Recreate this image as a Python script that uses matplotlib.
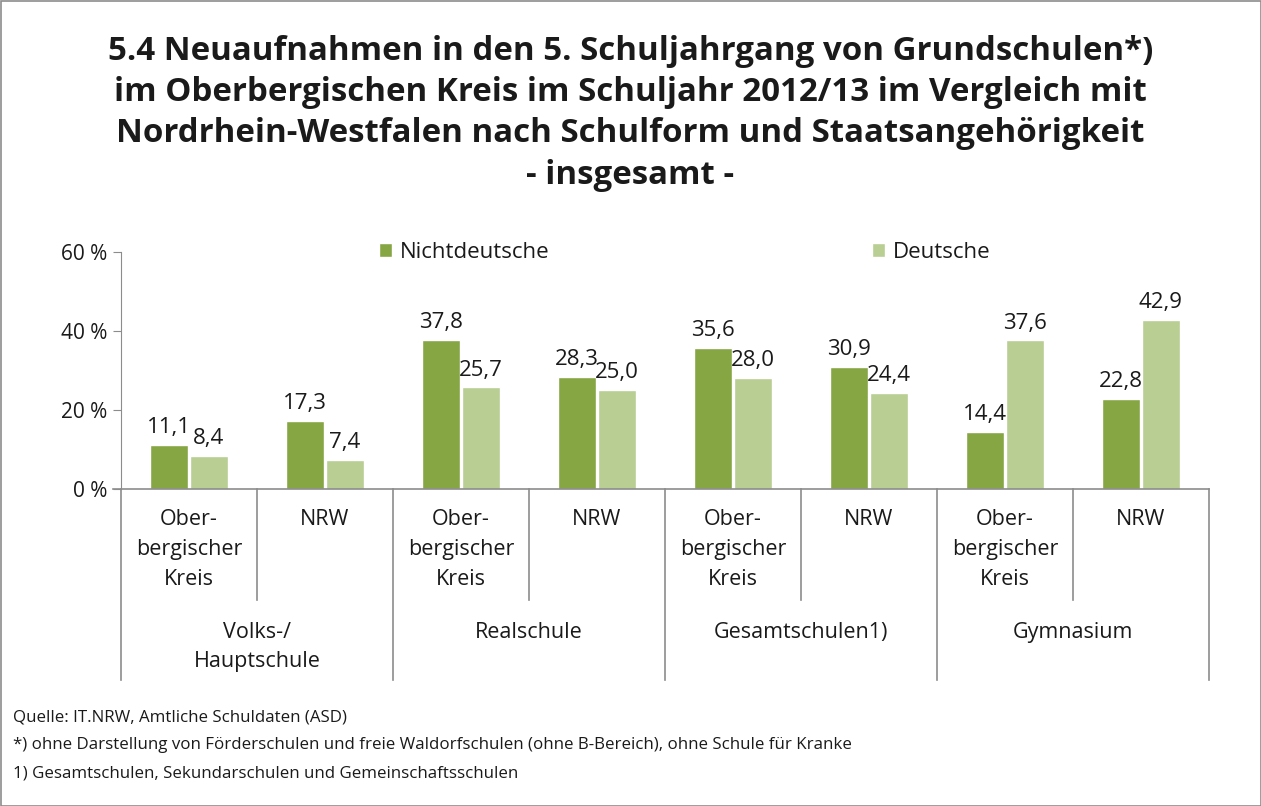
import matplotlib
matplotlib.use("Agg")
import matplotlib.pyplot as plt
from matplotlib.patches import Rectangle
import numpy as np

plt.rcParams['font.family'] = ['Open Sans', 'DejaVu Sans']

sub_labels = ["Ober-\nbergischer\nKreis", "NRW"] * 4
groups = ["Volks-/\nHauptschule", "Realschule", "Gesamtschulen1)", "Gymnasium"]
series_names = ["Nichtdeutsche", "Deutsche"]
nichtdeutsche = [11.1, 17.3, 37.8, 28.3, 35.6, 30.9, 14.4, 22.8]
deutsche = [8.4, 7.4, 25.7, 25.0, 28.0, 24.4, 37.6, 42.9]
yticks = [0, 20, 40, 60]

title = ("5.4 Neuaufnahmen in den 5. Schuljahrgang von Grundschulen*)\n"
         "im Oberbergischen Kreis im Schuljahr 2012/13 im Vergleich mit\n"
         "Nordrhein-Westfalen nach Schulform und Staatsangehörigkeit\n"
         "- insgesamt -")
notes = ["Quelle: IT.NRW, Amtliche Schuldaten (ASD)",
         "*) ohne Darstellung von Förderschulen und freie Waldorfschulen (ohne B-Bereich), ohne Schule für Kranke",
         "1) Gesamtschulen, Sekundarschulen und Gemeinschaftsschulen"]

c_dark = "#86A543"
c_light = "#B8CE92"
grey = "#8C8C8C"
txt = "#1a1a1a"

W, H = 1261, 806
fig = plt.figure(figsize=(W/100, H/100), dpi=100)
fig.patches.append(Rectangle((0.5/W, 0.5/H), 1-1/W, 1-1/H, transform=fig.transFigure,
                             fill=False, edgecolor=grey, lw=1.2))

x0, x1 = 121, 1209
y0, y1 = 489, 252
ax = fig.add_axes([x0/W, 1-y0/H, (x1-x0)/W, (y0-y1)/H])
ax.set_xlim(0, 8)
ax.set_ylim(0, 60)

x = np.arange(8) + 0.5
bw = 0.28
b1 = ax.bar(x - bw/2 - 0.005, nichtdeutsche, bw, color=c_dark, edgecolor="white", lw=1, label=series_names[0])
b2 = ax.bar(x + bw/2 + 0.005, deutsche, bw, color=c_light, edgecolor="white", lw=1, label=series_names[1])
for bars, vals in ((b1, nichtdeutsche), (b2, deutsche)):
    for r, v in zip(bars, vals):
        ax.annotate(f"{v:.1f}".replace(".", ","), (r.get_x() + r.get_width()/2, v),
                    xytext=(0, 5), textcoords="offset points", ha="center", va="bottom",
                    fontsize=16, color=txt)

for s in ["top", "right", "bottom"]:
    ax.spines[s].set_visible(False)
ax.spines["left"].set_color(grey)
ax.set_yticks(yticks)
ax.set_yticklabels([f"{t} %" for t in yticks], fontsize=15, color=txt)
ax.tick_params(axis="y", length=6, color=grey, pad=4)
ax.set_xticks([])

# x axis line and category separators
ax.plot([-0.06, 8], [0, 0], color=grey, lw=1.2, clip_on=False, transform=ax.transData)
bt = ax.get_xaxis_transform()
def ypx(py):
    return (y0 - py) / (y0 - y1)
for b in range(9):
    bottom = 680 if b % 2 == 0 else 600
    ax.plot([b, b], [0, ypx(bottom)], color=grey, lw=1.2, clip_on=False, transform=bt)
for i, lab in enumerate(sub_labels):
    ax.text(i + 0.5, ypx(509), lab, transform=bt, ha="center", va="top",
            fontsize=15.5, color=txt, linespacing=1.56)
for g, lab in enumerate(groups):
    ax.text(2*g + 1, ypx(622), lab, transform=bt, ha="center", va="top",
            fontsize=15.5, color=txt, linespacing=1.52)

leg = ax.legend(loc="center", bbox_to_anchor=(0.518, 1.0), ncol=2, frameon=False,
                fontsize=16, handlelength=0.6, handleheight=0.6, handletextpad=0.35,
                columnspacing=14.5)
for t in leg.get_texts():
    t.set_color(txt)

fig.text(0.5, 1-35/H, title, ha="center", va="top", fontsize=23.8, fontweight="bold",
         color=txt, linespacing=1.33)
for i, n in enumerate(notes):
    fig.text(13/W, 1-(717 + 28*i)/H, n, ha="left", va="center", fontsize=12.2, color=txt)

fig.savefig("out.png", dpi=100)
